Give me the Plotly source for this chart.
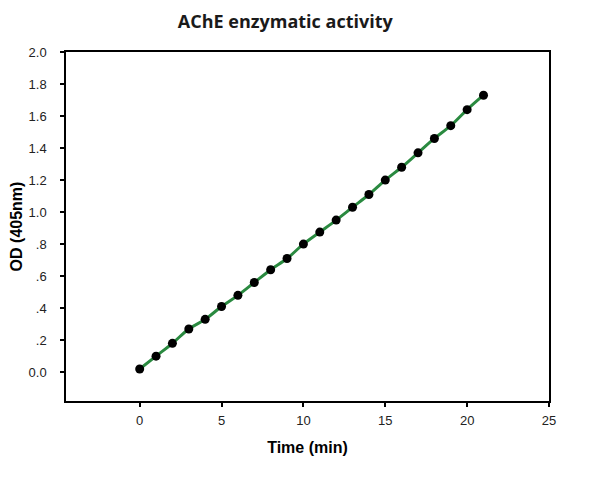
import plotly.graph_objects as go

# time points (min) and absorbance readings
time_min = [0, 1, 2, 3, 4, 5, 6, 7, 8, 9, 10, 11, 12, 13, 14, 15, 16, 17, 18, 19, 20, 21]
od_405 = [0.02, 0.10, 0.18, 0.27, 0.33, 0.41, 0.48, 0.56, 0.64, 0.71, 0.80,
          0.875, 0.95, 1.03, 1.11, 1.20, 1.28, 1.37, 1.46, 1.54, 1.64, 1.73]

y_ticks = [0.0, 0.2, 0.4, 0.6, 0.8, 1.0, 1.2, 1.4, 1.6, 1.8, 2.0]
y_labels = ['0.0', '.2', '.4', '.6', '.8', '1.0', '1.2', '1.4', '1.6', '1.8', '2.0']
x_ticks = [0, 5, 10, 15, 20, 25]

fig = go.Figure()
fig.add_trace(go.Scatter(x=time_min, y=od_405, mode='lines',
                         line=dict(color='#2a8a40', width=3, shape='spline'),
                         hoverinfo='skip'))
fig.add_trace(go.Scatter(x=time_min, y=od_405, mode='markers',
                         marker=dict(color='black', size=9)))

tick_font = dict(family='Arial', size=13, color='#222222')
title_font = dict(family='Arial', size=16, color='black')
axis_common = dict(showline=True, linecolor='black', linewidth=1.5, mirror=True,
                   ticks='outside', ticklen=4, tickwidth=1.5, tickcolor='black',
                   showgrid=False, zeroline=False, tickfont=tick_font,
                   automargin=False)

fig.update_layout(
    width=595, height=480,
    margin=dict(l=58, r=54, t=44, b=87),
    paper_bgcolor='white', plot_bgcolor='white',
    showlegend=False,
    title=dict(text='<b>AChE enzymatic activity</b>', x=0.466, xanchor='center',
               y=0.971, yanchor='middle',
               font=dict(family='Open Sans', size=18, color='#1a1a1a')),
    xaxis=dict(range=[-4.5, 25], tickvals=x_ticks, ticklabelstandoff=3,
               title=dict(text='<b>Time (min)</b>', standoff=14, font=title_font),
               **axis_common),
    yaxis=dict(range=[-0.18, 2.0], tickvals=y_ticks, ticktext=y_labels,
               ticklabelstandoff=11,
               title=dict(text='<b>OD (405nm)</b>', standoff=7, font=title_font),
               **axis_common),
)

fig.write_html("out.html")
